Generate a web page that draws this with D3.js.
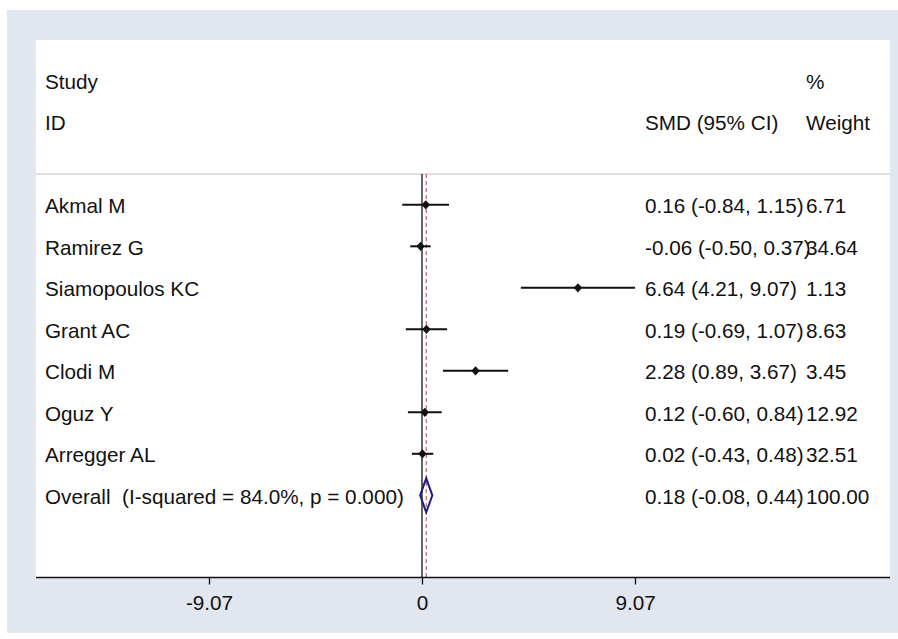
<!DOCTYPE html>
<html>
<head>
<meta charset="utf-8">
<script src="https://cdn.jsdelivr.net/npm/d3@7"></script>
<style>
  body { margin: 0; background: #fff; }
  svg text { font-family: "Liberation Sans", Arial, sans-serif; font-size: 20.7px; fill: #111; white-space: pre; }
</style>
</head>
<body>
<svg id="chart" width="898" height="639"></svg>
<script>
// study data
const studies = ["Akmal M", "Ramirez G", "Siamopoulos KC", "Grant AC", "Clodi M", "Oguz Y", "Arregger AL"];
const smd     = [0.16, -0.06, 6.64, 0.19, 2.28, 0.12, 0.02];
const lower   = [-0.84, -0.50, 4.21, -0.69, 0.89, -0.60, -0.43];
const upper   = [1.15, 0.37, 9.07, 1.07, 3.67, 0.84, 0.48];
const weights = ["6.71", "34.64", "1.13", "8.63", "3.45", "12.92", "32.51"];

const overallLabel = "Overall  (I-squared = 84.0%, p = 0.000)";
const overall = [0.18, -0.08, 0.44];   // estimate, lower, upper
const overallWeight = "100.00";

const xTicks = [-9.07, 0, 9.07];

/* frame sizes */
const width = 898, height = 639;
const plot = { left: 36, right: 890, top: 40, bottom: 577.5 };
const ciCol = 645, wCol = 806, labelCol = 45;

const svg = d3.select("#chart");

/* outer graph region and white plot region */
svg.append("rect").attr("x", 7).attr("y", 10).attr("width", width - 7).attr("height", 623)
  .attr("fill", "#e1e6ef");
svg.append("rect").attr("x", plot.left).attr("y", plot.top)
  .attr("width", plot.right - plot.left).attr("height", plot.bottom - plot.top)
  .attr("fill", "#fff");

/* scales */
const x = d3.scaleLinear().domain([-9.07, 9.07]).range([209, 635]);
const y = d3.scaleLinear().domain([0, 7]).range([204.8, 495.3]);
const baseline = 8.5;

/* separator under header */
svg.append("line")
  .attr("x1", plot.left).attr("x2", plot.right)
  .attr("y1", y(-0.74)).attr("y2", y(-0.74))
  .attr("stroke", "#d4d4d4").attr("stroke-width", 1.5);

/* header */
svg.append("text").attr("x", labelCol).attr("y", y(-3) + baseline).text("Study");
svg.append("text").attr("x", labelCol).attr("y", y(-2) + baseline).text("ID");
svg.append("text").attr("x", ciCol).attr("y", y(-2) + baseline).text("SMD (95% CI)");
svg.append("text").attr("x", wCol).attr("y", y(-3) + baseline).text("%");
svg.append("text").attr("x", wCol).attr("y", y(-2) + baseline).text("Weight");

/* null line and overall effect line */
svg.append("line")
  .attr("x1", x(0)).attr("x2", x(0))
  .attr("y1", y(-0.74)).attr("y2", plot.bottom)
  .attr("stroke", "#111").attr("stroke-width", 1.3);
svg.append("line")
  .attr("x1", x(overall[0])).attr("x2", x(overall[0]))
  .attr("y1", y(-0.74)).attr("y2", plot.bottom)
  .attr("stroke", "#b8404e").attr("stroke-width", 1)
  .attr("stroke-dasharray", "4,3");

/* studies */
const rows = svg.append("g").selectAll("g").data(studies).join("g");

rows.append("text").attr("x", labelCol).attr("y", (d, i) => y(i) + baseline).text(d => d);

rows.append("line")
  .attr("x1", (d, i) => x(lower[i])).attr("x2", (d, i) => x(upper[i]))
  .attr("y1", (d, i) => y(i)).attr("y2", (d, i) => y(i))
  .attr("stroke", "#111").attr("stroke-width", 2);

rows.append("path")
  .attr("d", (d, i) => {
    const cx = x(smd[i]), cy = y(i);
    return `M${cx},${cy - 4.6}L${cx + 4.2},${cy}L${cx},${cy + 4.6}L${cx - 4.2},${cy}Z`;
  })
  .attr("fill", "#111");

rows.append("text").attr("x", ciCol).attr("y", (d, i) => y(i) + baseline)
  .text((d, i) => `${smd[i].toFixed(2)} (${lower[i].toFixed(2)}, ${upper[i].toFixed(2)})`);
rows.append("text").attr("x", wCol).attr("y", (d, i) => y(i) + baseline)
  .text((d, i) => weights[i]);

/* overall row */
const oy = y(7);
svg.append("text").attr("x", labelCol).attr("y", oy + baseline)
  .attr("xml:space", "preserve").text(overallLabel);
svg.append("path")
  .attr("d", `M${x(overall[1])},${oy}L${x(overall[0])},${oy - 17}L${x(overall[2])},${oy}L${x(overall[0])},${oy + 17}Z`)
  .attr("fill", "none").attr("stroke", "#1c1c82").attr("stroke-width", 2);
svg.append("text").attr("x", ciCol).attr("y", oy + baseline)
  .text(`${overall[0].toFixed(2)} (${overall[1].toFixed(2)}, ${overall[2].toFixed(2)})`);
svg.append("text").attr("x", wCol).attr("y", oy + baseline).text(overallWeight);

/* x axis */
const xAxis = d3.axisBottom(x).tickValues(xTicks).tickSize(7).tickPadding(11)
  .tickFormat(d => d === 0 ? "0" : d.toFixed(2));
const gx = svg.append("g").attr("transform", `translate(0,${plot.bottom})`).call(xAxis);
gx.select(".domain").remove();
gx.selectAll(".tick line").attr("stroke", "#111").attr("stroke-width", 1.3);
gx.selectAll(".tick text").attr("fill", "#111")
  .style("font-family", '"Liberation Sans", Arial, sans-serif').style("font-size", "20.7px");
svg.append("line")
  .attr("x1", plot.left).attr("x2", plot.right)
  .attr("y1", plot.bottom).attr("y2", plot.bottom)
  .attr("stroke", "#111").attr("stroke-width", 1.5);
</script>
</body>
</html>
